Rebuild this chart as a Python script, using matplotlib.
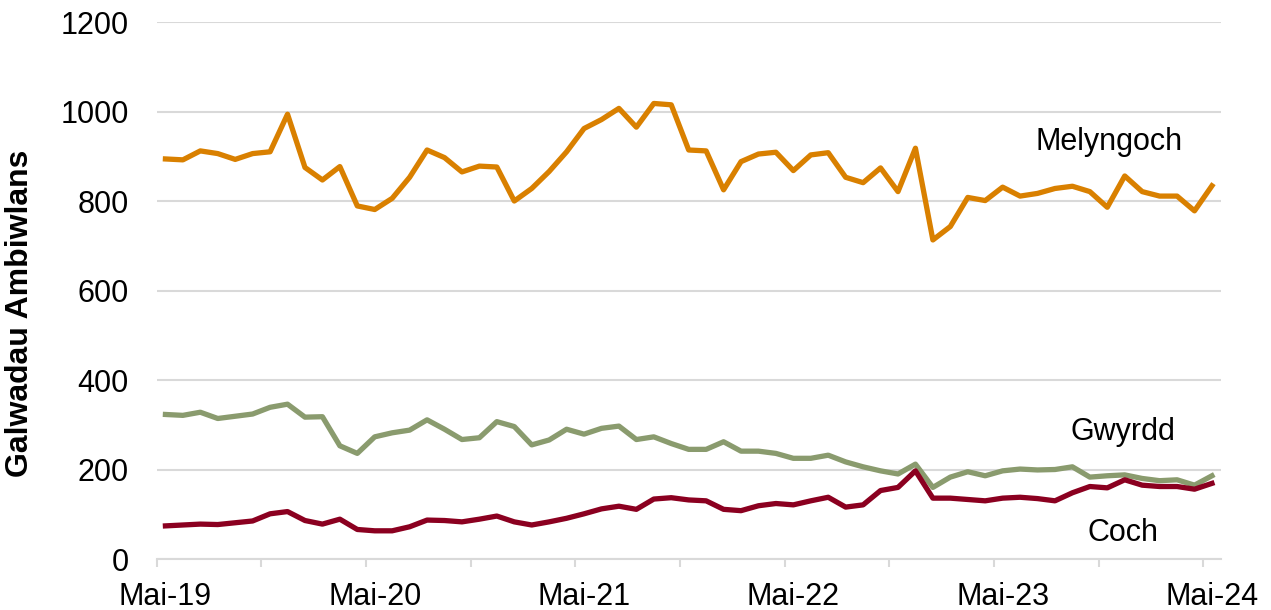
import matplotlib.pyplot as plt
import numpy as np

plt.rcParams['font.family'] = ['Liberation Sans', 'DejaVu Sans']

# monthly values, Mai-19 .. Mai-24
melyngoch = [894, 892, 912, 906, 893, 906, 910, 994, 875, 847,
             877, 789, 781, 806, 853, 914, 897, 865, 878, 876,
             800, 828, 866, 910, 962, 982, 1007, 965, 1018, 1015,
             914, 912, 825, 888, 905, 909, 868, 903, 908, 853,
             841, 874, 821, 918, 713, 743, 808, 801, 831, 811,
             817, 828, 833, 821, 786, 856, 821, 811, 811, 778, 834]
gwyrdd = [323, 321, 328, 314, 319, 324, 339, 346, 317, 318,
          253, 236, 273, 282, 288, 311, 290, 267, 271, 307,
          296, 255, 266, 290, 279, 292, 297, 267, 273, 258,
          245, 245, 262, 241, 241, 236, 225, 225, 232, 217,
          206, 197, 190, 212, 160, 183, 195, 186, 197, 201,
          199, 200, 206, 183, 186, 188, 180, 175, 177, 165, 186]
coch = [74, 76, 78, 77, 81, 85, 101, 106, 86, 78,
        89, 66, 63, 63, 72, 87, 86, 83, 89, 96,
        83, 76, 83, 91, 101, 112, 118, 111, 134, 137,
        132, 130, 111, 108, 119, 124, 121, 130, 138, 116,
        121, 153, 160, 197, 136, 136, 133, 130, 136, 138,
        135, 130, 148, 162, 159, 177, 165, 162, 162, 156, 169]
x_labels = ['Mai-19', 'Mai-20', 'Mai-21', 'Mai-22', 'Mai-23', 'Mai-24']

months = np.arange(len(melyngoch))

fig = plt.figure(figsize=(12.71, 6.10), dpi=100)
ax = fig.add_axes([0.1233, 0.0836, 0.8371, 0.8803])

ax.plot(months, melyngoch, color='#D98000', lw=3.8, solid_joinstyle='round')
ax.plot(months, gwyrdd, color='#8A9B6E', lw=3.8, solid_joinstyle='round')
ax.plot(months, coch, color='#8B0020', lw=3.8, solid_joinstyle='round')

ax.text(54.1, 932, 'Melyngoch', fontsize=22, ha='center', va='center')
ax.text(54.9, 284, 'Gwyrdd', fontsize=22, ha='center', va='center')
ax.text(54.9, 58, 'Coch', fontsize=22, ha='center', va='center')

ax.set_xlim(-0.5, len(months) - 0.5)
ax.set_ylim(0, 1200)
ax.set_yticks(range(0, 1201, 200))
ax.yaxis.grid(True, color='#D9D9D9', lw=1.5)
ax.set_axisbelow(True)
ax.tick_params(axis='y', length=0, labelsize=22, pad=20)

ax.set_xticks(np.arange(0, len(months), 12))
ax.set_xticklabels(x_labels)
ax.set_xticks(np.arange(-0.5, len(months), 6), minor=True)
ax.tick_params(axis='x', which='major', length=0, labelsize=22, pad=16.5)
ax.tick_params(axis='x', which='minor', length=5.5, width=1.5, color='#D9D9D9')

for s in ['top', 'right', 'left']:
    ax.spines[s].set_visible(False)
ax.spines['bottom'].set_color('#D9D9D9')
ax.spines['bottom'].set_linewidth(1.5)

ax.set_ylabel('Galwadau Ambiwlans', fontsize=23, fontweight='bold')
ax.yaxis.set_label_coords(-0.1144, 0.458)

fig.savefig('out.png', dpi=100)
